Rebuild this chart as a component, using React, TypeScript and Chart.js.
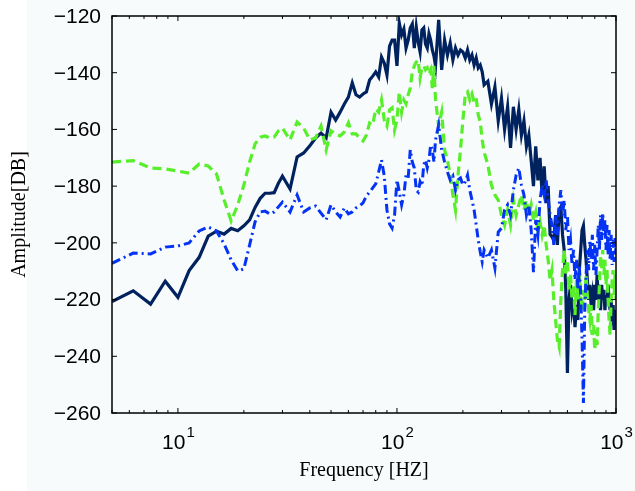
import React, { useEffect, useRef } from "react";
import { Chart, registerables } from "chart.js";

Chart.register(...registerables);

// Frequencies (Hz) shared by the three spectra
const freqs = [
  5, 6.25, 7.5, 8.75, 10, 11.25, 12.5, 13.75, 15, 16.25, 17.5, 18.75, 20, 21.25, 22.5, 23.75, 25, 26.25, 27.5, 28.75, 30,
  32.5, 35, 37.5, 40, 42.5, 45, 47.5, 50, 52.5, 55, 57.5, 60, 62.5, 65, 67.5, 70, 72.5, 75, 77.5, 80, 82.5, 85, 87.5, 90, 92.5, 95, 97.5, 100,
  102.5, 105, 107.5, 110, 112.5, 115, 117.5, 120, 122.5, 125, 127.5, 130, 132.5, 135, 137.5, 140, 142.5, 145, 147.5, 150,
  155, 160, 165, 170, 175, 180, 185, 190, 195, 200, 205, 210, 215, 220, 225, 230, 235, 240, 245, 250,
  260, 270, 280, 290, 300, 310, 320, 330, 340, 350, 360, 370, 380, 390, 400, 410, 420, 430, 440, 450, 460, 470, 480, 490, 500,
  510, 520, 530, 540, 550, 560, 570, 580, 590, 600, 610, 620, 630, 640, 650, 660, 670, 680, 690, 700,
  710, 720, 730, 740, 750, 760, 770, 780, 790, 800, 810, 820, 830, 840, 850, 860, 870, 880, 890, 900,
  910, 920, 930, 940, 950, 960, 970, 980, 990, 1000,
];

// Dark navy solid line
const navySeries = [
  -220.7, -216.9, -221.6, -213.5, -219.2, -209.8, -205.1, -197.6, -195.9, -196.9, -194.9, -195.7, -194.0, -191.9, -187.5, -184.3, -182.5, -182.5, -182.3, -179.0, -176.5,
  -181.0, -169.7, -168.3, -165.8, -163.0, -161.3, -163.0, -153.9, -156.7, -153.9, -151.0, -148.6, -143.6, -147.8, -148.6, -147.5, -146.8, -142.6, -141.2, -139.7, -141.5, -134.5, -136.6, -140.8, -130.6, -128.5, -128.5, -137.6,
  -122.5, -126.7, -124.6, -131.3, -128.5, -124.2, -122.8, -131.3, -123.9, -129.2, -132.7, -124.9, -124.2, -129.9, -131.3, -126.3, -128.5, -132.0, -134.1, -137.6,
  -121.4, -139.0, -128.5, -133.8, -129.5, -135.5, -131.3, -133.8, -132.0, -132.7, -134.8, -132.0, -135.5, -133.8, -137.3, -134.8, -138.3, -137.3, -139.7, -144.3,
  -143.0, -151.0, -145.0, -157.0, -149.0, -160.0, -152.0, -166.5, -152.0, -160.0, -153.0, -162.0, -157.0, -166.0, -162.0, -171.0, -180.0, -166.0, -178.0, -170.0, -183.0, -173.0, -186.0, -180.0, -197.0,
  -197.9, -199.0, -190.2, -200.7, -188.4, -187.3, -197.2, -202.5, -216.6, -245.9, -220.1, -214.8, -223.7, -220.1, -229.7, -221.9, -227.2, -209.6, -202.5, -195.5,
  -194.0, -200.7, -206.0, -213.1, -220.1, -214.8, -221.9, -218.4, -223.7, -214.8, -220.1, -211.3, -220.1, -214.8, -223.7, -214.8, -220.1, -216.6, -223.7, -218.4,
  -221.9, -214.8, -220.1, -223.7, -220.1, -229.0, -221.9, -230.7, -223.7, -229.0,
];

// Light green dashed line
const greenSeries = [
  -171.5, -171.0, -173.6, -173.9, -174.7, -175.4, -172.2, -172.9, -175.7, -184.9, -192.3, -186.6, -179.6, -171.5, -165.1, -162.7, -162.3, -163.0, -162.7, -160.5, -159.5,
  -163.7, -157.4, -159.5, -163.7, -163.0, -158.8, -167.2, -160.5, -161.6, -162.3, -160.9, -157.7, -161.6, -161.6, -163.0, -164.1, -162.0, -157.7, -158.4, -152.8, -153.9, -149.6, -156.7, -158.8, -153.1, -152.4, -160.2, -156.7,
  -146.8, -153.9, -149.6, -151.0, -147.9, -145.4, -139.7, -137.6, -136.2, -135.5, -141.9, -138.3, -137.6, -139.0, -138.3, -140.5, -139.0, -145.4, -137.6, -149.6,
  -158.8, -153.9, -167.2, -170.8, -176.1, -183.1, -188.4, -176.1, -167.2, -156.7, -147.9, -146.8, -149.6, -147.5, -150.3, -148.9, -154.9, -157.4, -163.7, -168.0,
  -172.5, -179.6, -183.1, -184.9, -190.2, -193.7, -188.4, -193.7, -184.9, -190.2, -186.6, -183.1, -188.4, -184.9, -190.2, -186.6, -191.9, -189.1, -195.5, -192.6, -197.2, -193.7, -200.7, -206.0, -213.1,
  -209.6, -220.1, -227.2, -234.2, -236.7, -220.1, -209.6, -202.5, -211.3, -206.0, -216.6, -211.3, -220.1, -214.8, -225.4, -213.1, -220.1, -209.6, -218.4, -223.7,
  -216.6, -220.1, -211.3, -218.4, -223.7, -227.2, -221.9, -232.5, -229.0, -237.8, -230.7, -236.0, -223.7, -214.8, -204.3, -209.6, -202.5, -211.3, -206.0, -214.8,
  -209.6, -220.1, -227.2, -232.5, -220.1, -213.1, -209.6, -218.4, -211.3, -220.1,
];

// Bright blue dash-dot line
const blueSeries = [
  -207.2, -203.6, -203.9, -201.5, -201.1, -200.0, -195.8, -194.4, -195.8, -200.4, -206.0, -209.9, -209.2, -200.7, -192.6, -189.1, -188.8, -189.8, -189.1, -187.3, -185.6,
  -189.1, -183.1, -189.1, -187.7, -187.0, -189.5, -191.9, -186.6, -189.1, -190.9, -187.7, -189.8, -189.1, -187.7, -187.0, -185.9, -183.5, -182.1, -180.6, -179.2, -175.0, -170.8, -176.4, -188.4, -193.3, -194.8, -190.2, -177.8,
  -182.1, -186.6, -183.1, -176.1, -177.1, -167.2, -171.5, -173.6, -181.4, -182.1, -178.5, -179.9, -172.5, -170.8, -173.6, -170.8, -165.5, -167.2, -171.5, -163.7,
  -158.4, -167.2, -171.5, -175.0, -177.8, -176.4, -181.4, -177.8, -177.1, -179.6, -178.5, -176.1, -181.4, -184.9, -188.4, -193.7, -199.0, -203.2, -206.7, -202.5,
  -205.3, -202.5, -208.9, -196.2, -194.8, -188.4, -186.6, -190.2, -181.4, -176.1, -173.6, -179.6, -183.1, -190.2, -186.6, -195.5, -210.3, -191.9, -197.2, -184.9, -179.6, -183.1, -177.8, -184.9, -190.2,
  -193.7, -200.7, -190.2, -197.2, -186.6, -181.4, -190.2, -184.9, -195.5, -190.2, -202.5, -199.0, -207.8, -202.5, -213.1, -206.0, -216.6, -207.8, -218.4, -234.2,
  -256.5, -223.7, -211.3, -202.5, -209.6, -199.0, -206.0, -197.2, -209.6, -200.7, -211.3, -202.5, -193.7, -202.5, -190.2, -199.0, -189.5, -197.2, -191.9, -202.5,
  -193.7, -204.3, -195.5, -206.0, -197.2, -207.8, -199.0, -206.7, -198.3, -204.3,
];

const yTickValues = [-120, -140, -160, -180, -200, -220, -240, -260];
const xDecadeTicks = [10, 100, 1000];
const xDecadeExponents = ["1", "2", "3"];
const minorMultipliers = [2, 3, 4, 5, 6, 7, 8, 9];
const minorDecades = [1, 10, 100];
const xTitle = "Frequency [HZ]";
const yTitle = "Amplitude[DB]";

const W = 635;
const H = 491;

const framePlugin = {
  id: "matlabFrame",
  beforeDraw(chart: any) {
    const ctx = chart.ctx;
    ctx.save();
    ctx.fillStyle = "#ffffff";
    ctx.fillRect(0, 0, chart.width, chart.height);
    ctx.fillStyle = "#f8fbfb";
    ctx.fillRect(27, 0, chart.width - 27, chart.height);
    ctx.restore();
  },
  afterDraw(chart: any) {
    const ctx = chart.ctx as CanvasRenderingContext2D;
    const a = chart.chartArea;
    const xs = chart.scales.x;
    const ys = chart.scales.y;
    ctx.save();
    ctx.strokeStyle = "#000";
    ctx.lineWidth = 1.5;
    ctx.strokeRect(a.left, a.top, a.right - a.left, a.bottom - a.top);

    const seg = (x1: number, y1: number, x2: number, y2: number) => {
      ctx.beginPath();
      ctx.moveTo(x1, y1);
      ctx.lineTo(x2, y2);
      ctx.stroke();
    };
    ctx.lineWidth = 1;
    for (const v of yTickValues) {
      const y = ys.getPixelForValue(v);
      seg(a.left, y, a.left + 5, y);
      seg(a.right, y, a.right - 5, y);
    }
    for (const d of minorDecades) {
      for (const m of minorMultipliers) {
        const f = m * d;
        if (f < xs.min || f > xs.max) continue;
        const x = xs.getPixelForValue(f);
        seg(x, a.bottom, x, a.bottom - 3);
        seg(x, a.top, x, a.top + 3);
      }
    }
    for (const f of xDecadeTicks) {
      const x = xs.getPixelForValue(f);
      seg(x, a.bottom, x, a.bottom - 5);
      seg(x, a.top, x, a.top + 5);
    }

    // y tick labels
    ctx.fillStyle = "#000";
    ctx.font = '21px "Liberation Sans"';
    ctx.textAlign = "right";
    ctx.textBaseline = "middle";
    for (const v of yTickValues) {
      const y = ys.getPixelForValue(v);
      const txt = (v < 0 ? "\u2212" : "") + Math.abs(v);
      ctx.fillText(txt, a.left - 11, y + 1);
    }

    // x tick labels 10^n
    ctx.textAlign = "left";
    ctx.textBaseline = "alphabetic";
    xDecadeTicks.forEach((f, i) => {
      const x = xs.getPixelForValue(f);
      ctx.font = '21px "Liberation Sans"';
      const wb = ctx.measureText("10").width;
      ctx.font = '15px "Liberation Sans"';
      const we = ctx.measureText(xDecadeExponents[i]).width;
      const start = x - (wb + we) / 2;
      ctx.font = '21px "Liberation Sans"';
      ctx.fillText("10", start, a.bottom + 36);
      ctx.font = '15px "Liberation Sans"';
      ctx.fillText(xDecadeExponents[i], start + wb + 1, a.bottom + 24);
    });

    // axis titles
    ctx.font = '20px "Liberation Serif"';
    ctx.textAlign = "center";
    ctx.fillText(xTitle, (a.left + a.right) / 2, a.bottom + 63);
    ctx.save();
    ctx.translate(25, (a.top + a.bottom) / 2);
    ctx.rotate(-Math.PI / 2);
    ctx.fillText(yTitle, 0, 0);
    ctx.restore();
    ctx.restore();
  },
};

export default function App() {
  const ref = useRef<HTMLCanvasElement | null>(null);
  useEffect(() => {
    if (!ref.current) return;
    const mk = (vals: number[]) => freqs.map((f, i) => ({ x: f, y: vals[i] }));
    const chart = new Chart(ref.current, {
      type: "line",
      data: {
        datasets: [
          {
            label: "navy",
            data: mk(navySeries),
            borderColor: "#00225e",
            borderWidth: 3.2,
            pointRadius: 0,
            tension: 0,
            order: 3,
          },
          {
            label: "green",
            data: mk(greenSeries),
            borderColor: "#57ee2a",
            borderWidth: 3.2,
            borderDash: [9, 5],
            pointRadius: 0,
            tension: 0,
            order: 2,
          },
          {
            label: "blue",
            data: mk(blueSeries),
            borderColor: "#0433f5",
            borderWidth: 3,
            borderDash: [9, 4, 2, 4],
            pointRadius: 0,
            tension: 0,
            order: 1,
          },
        ],
      },
      options: {
        animation: false,
        responsive: false,
        devicePixelRatio: 1,
        parsing: false as any,
        normalized: true,
        layout: { padding: { left: 112, right: 19, top: 16, bottom: 78 } },
        plugins: { legend: { display: false }, tooltip: { enabled: false } },
        events: [],
        scales: {
          x: { type: "logarithmic", min: 5, max: 1000, display: false },
          y: { type: "linear", min: -260, max: -120, display: false },
        },
      },
      plugins: [framePlugin],
    });
    return () => chart.destroy();
  }, []);
  return (
    <div style={{ position: "fixed", left: 0, top: 0, width: W, height: H }}>
      <canvas ref={ref} width={W} height={H} style={{ width: W, height: H, display: "block" }} />
    </div>
  );
}
